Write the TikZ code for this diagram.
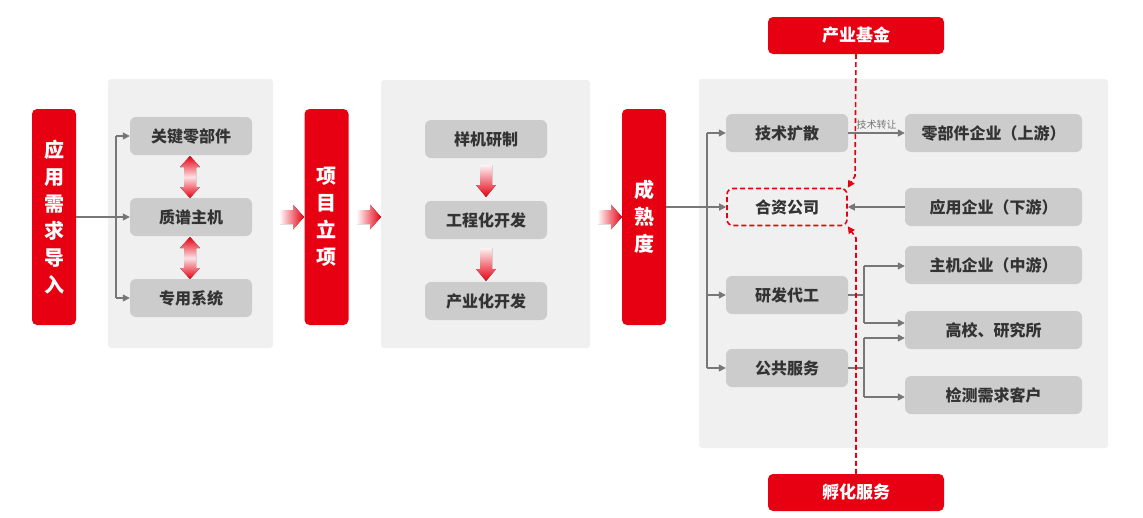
\documentclass[tikz,border=0pt]{standalone}
\usepackage{fontspec}
\newfontfamily\cjk{Noto Sans CJK SC}
\usetikzlibrary{positioning, calc, arrows.meta}
\definecolor{MainRed}{HTML}{E60012}
\definecolor{PanelGray}{HTML}{F0F0F0}
\definecolor{BoxGray}{HTML}{CCCCCC}
\definecolor{LineGray}{HTML}{777777}
\tikzstyle{Arrow} = [draw=LineGray, line width=1.3pt, -{Triangle[length=7pt, width=7pt]}]
\tikzstyle{Line} = [draw=LineGray, line width=1.3pt]
% fat arrows: #1 = x left, #2 = y centre (horizontal)
\newcommand{\hflow}[2]{%
  \fill[left color=MainRed!3, right color=MainRed]
    (#1,#2-7) -- (#1+13,#2-7) -- (#1+13,#2-12.5) -- (#1+24,#2) -- (#1+13,#2+12.5)
    -- (#1+13,#2+7) -- (#1,#2+7) -- cycle;}
% #1 = x centre, #2 = y top, #3 = y bottom
\newcommand{\vswap}[3]{%
  \fill[top color=MainRed, bottom color=MainRed, middle color=MainRed!12]
    (#1,#2) -- (#1+10,#2+11) -- (#1+6,#2+11) -- (#1+6,#3-11) -- (#1+10,#3-11) -- (#1,#3)
    -- (#1-10,#3-11) -- (#1-6,#3-11) -- (#1-6,#2+11) -- (#1-10,#2+11) -- cycle;}
\newcommand{\vdown}[3]{%
  \fill[top color=MainRed!5, bottom color=MainRed]
    (#1-6,#2) -- (#1+6,#2) -- (#1+6,#3-12) -- (#1+10,#3-12) -- (#1,#3)
    -- (#1-10,#3-12) -- (#1-6,#3-12) -- cycle;}

\begin{document}
\begin{tikzpicture}[
x=1pt, y=-1pt,
font=\cjk\bfseries,
panel/.style={fill=PanelGray, rounded corners=3pt},
redbar/.style={fill=MainRed, rounded corners=5pt, text=white, font=\cjk\bfseries\fontsize{20}{27}\selectfont,
    minimum width=44pt, minimum height=216pt, align=center, inner sep=0pt},
stage/.style={fill=BoxGray, rounded corners=6pt, minimum width=122pt, minimum height=38pt,
    text=black!80, font=\cjk\bfseries\fontsize{16}{18}\selectfont, inner sep=0pt},
part/.style={stage, minimum width=177pt},
redtag/.style={fill=MainRed, rounded corners=5pt, text=white, minimum width=176pt, minimum height=37pt,
    font=\cjk\bfseries\fontsize{17}{19}\selectfont, inner sep=0pt},
Dash/.style={draw=MainRed, line width=1.6pt, dash pattern=on 5pt off 3pt}
]
\useasboundingbox (0,0) rectangle (1143,517);

% panels
\fill[panel] (108,79) rectangle (273,348);
\fill[panel] (381,80) rectangle (590,348);
\fill[panel] (699,79) rectangle (1108,448);

% red bars
\node[redbar] (need) at (54,217) {应\\用\\需\\求\\导\\入};
\node[redbar] (proj) at (326.5,217) {项\\目\\立\\项};
\node[redbar] (mature) at (644,217) {成\\熟\\度};

% first stage
\node[stage] (key) at (191,136) {关键零部件};
\node[stage] (host) at (191,217) {质谱主机};
\node[stage] (sys) at (191,298) {专用系统};
\vswap{190}{156}{198}
\vswap{190}{237}{279}

\coordinate (b1) at (116,217);
\draw[Line] (need.east |- b1) -- (b1);
\draw[Line] (116,136) -- (116,298);
\draw[Arrow] (116,136) -- (key.west);
\draw[Arrow] (b1) -- (host.west);
\draw[Arrow] (116,298) -- (sys.west);

\hflow{280}{217}
\hflow{357}{217}
\hflow{598}{217}

% second stage
\node[stage] (proto) at (486,139) {样机研制};
\node[stage] (eng) at (486,220) {工程化开发};
\node[stage] (ind) at (486,301) {产业化开发};
\vdown{486}{165}{197}
\vdown{486}{248}{281}

% third stage
\node[stage] (diff) at (787,133) {技术扩散};
\node[stage, fill=none, draw=MainRed, line width=1.6pt, dash pattern=on 5pt off 3pt,
    minimum width=120pt, minimum height=37pt] (jv) at (787,207) {合资公司};
\node[stage] (oem) at (787,295) {研发代工};
\node[stage] (pub) at (787,368) {公共服务};

\node[part] (up) at (993.5,133) {零部件企业（上游）};
\node[part] (downst) at (993.5,207) {应用企业（下游）};
\node[part] (mid) at (993.5,265) {主机企业（中游）};
\node[part] (uni) at (993.5,330) {高校、研究所};
\node[part] (test) at (993.5,395) {检测需求客户};

\coordinate (b2) at (707,207);
\draw[Line] (mature.east |- b2) -- (b2);
\draw[Line] (707,133) -- (707,368);
\draw[Arrow] (707,133) -- (diff.west);
\draw[Arrow] (b2) -- (jv.west);
\draw[Arrow] (707,295) -- (oem.west);
\draw[Arrow] (707,368) -- (pub.west);

\draw[Arrow] (diff.east) -- node[above, font=\cjk\fontsize{10}{12}\selectfont, text=LineGray, pos=0.5] {技术转让} (up.west);
\draw[Arrow] (downst.west) -- (jv.east);

\draw[Line] (oem.east) -- (864,295);
\draw[Line] (864,266) -- (864,323);
\draw[Arrow] (864,266) -- (mid.west |- 864,266);
\draw[Arrow] (864,323) -- (uni.west |- 864,323);
\draw[Line] (pub.east) -- (864,368);
\draw[Line] (864,338) -- (864,397);
\draw[Arrow] (864,338) -- (uni.west |- 864,338);
\draw[Arrow] (864,397) -- (test.west |- 864,397);

% funding and incubation
\node[redtag] (fund) at (856,35.5) {产业基金};
\node[redtag] (incub) at (856,492.5) {孵化服务};
\draw[Dash, -{Triangle[length=7pt, width=7pt]}] (fund.south) -- (855,176) -- (jv.north east);
\draw[Dash, -{Triangle[length=7pt, width=7pt]}] (incub.north) -- (856,238) -- (jv.south east);

\end{tikzpicture}
\end{document}
